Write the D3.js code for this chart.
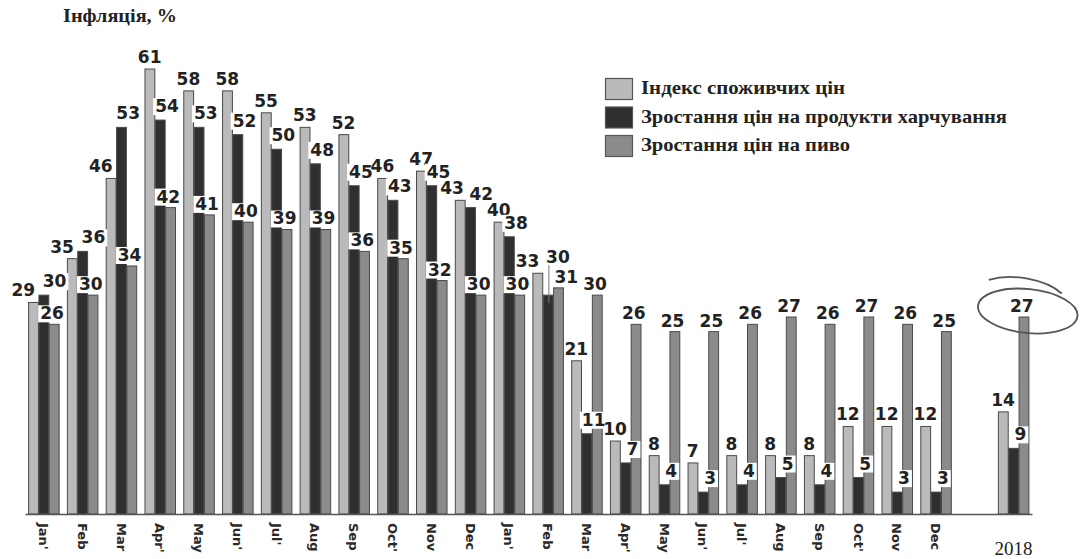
<!DOCTYPE html>
<html>
<head>
<meta charset="utf-8">
<script src="https://cdn.jsdelivr.net/npm/d3@7"></script>
<style>
  html, body { margin: 0; padding: 0; background: #fff; }
  svg { display: block; }
</style>
</head>
<body>
<svg id="chart" width="1080" height="559"></svg>
<script>
// Month labels (two years) followed by an empty slot and the 2018 point
const categories = ["Jan'", "Feb", "Mar", "Apr'", "May", "Jun'", "Jul'", "Aug", "Sep", "Oct'", "Nov", "Dec",
                    "Jan'", "Feb", "Mar", "Apr'", "May", "Jun'", "Jul'", "Aug", "Sep", "Oct'", "Nov", "Dec",
                    "", "2018"];

// Inflation, %
const cpiValues  = [29, 35, 46, 61, 58, 58, 55, 53, 52, 46, 47, 43,
                    40, 33, 21, 10, 8, 7, 8, 8, 8, 12, 12, 12,
                    null, 14];
const foodValues = [30, 36, 53, 54, 53, 52, 50, 48, 45, 43, 45, 42,
                    38, 30, 11, 7, 4, 3, 4, 5, 4, 5, 3, 3,
                    null, 9];
const beerValues = [26, 30, 34, 42, 41, 40, 39, 39, 36, 35, 32, 30,
                    30, 31, 30, 26, 25, 25, 26, 27, 26, 27, 26, 25,
                    null, 27];

const seriesNames = ["Індекс споживчих цін", "Зростання цін на продукти харчування", "Зростання цін на пиво"];
const seriesKeys = ["cpi", "food", "beer"];
const titleText = "Інфляція, %";

const colors = { cpi: "#bababa", food: "#2f2f2f", beer: "#8b8b8b" };
const barStroke = "#4a4a4a";

const svg = d3.select("#chart");
const baseY = 514;

const x = d3.scaleBand()
  .domain(d3.range(categories.length))
  .range([25, 1032])
  .paddingInner(0.2)
  .paddingOuter(0.08);

const xSub = d3.scaleBand()
  .domain(seriesKeys)
  .range([0, x.bandwidth()]);

const y = d3.scaleLinear().domain([0, 61]).range([baseY, 69]);

const rows = categories.map((c, i) => ({
  i, label: c, cpi: cpiValues[i], food: foodValues[i], beer: beerValues[i]
})).filter(d => d.cpi != null);

// Bars
const groups = svg.append("g").selectAll("g")
  .data(rows).join("g")
  .attr("transform", d => `translate(${x(d.i)},0)`);

groups.selectAll("rect")
  .data(d => seriesKeys.map(k => ({ key: k, value: d[k] })))
  .join("rect")
  .attr("x", d => xSub(d.key) + 0.5)
  .attr("width", xSub.bandwidth() - 0.5)
  .attr("y", d => y(d.value))
  .attr("height", d => baseY - y(d.value))
  .attr("fill", d => colors[d.key])
  .attr("stroke", barStroke)
  .attr("stroke-width", 1);

// Axis
const xAxis = d3.axisBottom(x)
  .tickSize(0)
  .tickSizeOuter(0)
  .tickFormat(i => categories[i]);

const axisG = svg.append("g")
  .attr("transform", `translate(0,${baseY})`)
  .call(xAxis);

axisG.select(".domain").attr("stroke", "#555").attr("stroke-width", 1.6);

axisG.selectAll(".tick text")
  .attr("fill", "#2a2a2a")
  .style("font-family", "'DejaVu Sans', sans-serif")
  .style("font-weight", "bold")
  .style("font-size", "13px")
  .each(function (i) {
    const t = d3.select(this);
    if (categories[i] === "2018") {
      t.attr("y", 41).attr("dy", null)
        .style("font-family", "'Liberation Serif', 'Times New Roman', serif")
        .style("font-weight", "normal")
        .style("font-size", "19px")
        .attr("fill", "#222")
        .style("text-anchor", "middle");
    } else {
      t.attr("transform", "rotate(90)")
        .attr("x", 9).attr("y", 0).attr("dy", "0.36em")
        .style("text-anchor", "start");
    }
  });

// Value labels
const labelFont = "'DejaVu Sans', Verdana, sans-serif";
const labelLayer = svg.append("g");

function addLabel(cx, baseline, text, withBg) {
  const g = labelLayer.append("g");
  const bg = g.append("rect").attr("fill", "#fff");
  const t = g.append("text")
    .attr("x", cx).attr("y", baseline)
    .attr("text-anchor", "middle")
    .style("font-family", labelFont)
    .style("font-weight", "bold")
    .style("font-size", "17px")
    .attr("fill", "#222")
    .text(text);
  if (withBg) {
    const w = t.node().getComputedTextLength();
    bg.attr("x", cx - w / 2 - 2).attr("y", baseline - 14)
      .attr("width", w + 4).attr("height", 17);
  } else {
    bg.remove();
  }
}

rows.forEach(d => {
  const gx = x(d.i);
  const cCx = gx + xSub("cpi") + xSub.bandwidth() / 2;
  const fCx = gx + xSub("food") + xSub.bandwidth() / 2;
  const bCx = gx + xSub("beer") + xSub.bandwidth() / 2;

  // food label would sit on the beer label when the two are close: lift it with a leader
  const lift = d.beer > d.food && d.beer - d.food < 5;
  // nearly equal first two bars: spread their labels apart
  const tie = Math.abs(d.food - d.cpi) <= 1;
  const cpiShift = (d.food > d.cpi || lift) ? -10 : (tie ? -8 : 0);
  const foodShift = tie ? 11 : 7;

  addLabel(cCx + cpiShift, y(d.cpi) - 6, d.cpi, false);
  addLabel(bCx + (lift ? 8 : -2), y(d.beer) - 5, d.beer, true);

  if (lift) {
    const lb = y(d.food) - 32;
    labelLayer.append("line")
      .attr("x1", fCx + 1).attr("x2", fCx + 1)
      .attr("y1", lb + 2).attr("y2", y(d.food) + 8)
      .attr("stroke", "#777").attr("stroke-width", 1);
    addLabel(fCx + 10, lb, d.food, false);
  } else {
    addLabel(fCx + foodShift, y(d.food) - 8, d.food, true);
  }
});

// Hand-drawn ring around the 2018 beer value
const last = rows[rows.length - 1];
const ringCx = x(last.i) + xSub("beer") + xSub.bandwidth() / 2 + 4;
const ringCy = y(last.beer) - 6;
const ring = svg.append("g")
  .attr("transform", `translate(${ringCx},${ringCy}) rotate(6)`)
  .attr("fill", "none")
  .attr("stroke", "#555")
  .attr("stroke-width", 1.8);
ring.append("ellipse").attr("rx", 50).attr("ry", 22);
ring.append("path")
  .attr("d", "M-42,-27 C-20,-36 14,-34 32,-21");

// Title
svg.append("text")
  .attr("x", 63).attr("y", 22)
  .style("font-family", "'Liberation Serif', 'Times New Roman', serif")
  .style("font-weight", "bold")
  .style("font-size", "19px")
  .attr("fill", "#222")
  .attr("textLength", 114)
  .attr("lengthAdjust", "spacingAndGlyphs")
  .text(titleText);

// Legend
const legendWidths = [204, 366, 209];
const legend = svg.append("g").attr("transform", "translate(605,78)");
seriesKeys.forEach((k, i) => {
  const row = legend.append("g").attr("transform", `translate(0,${i * 28.5})`);
  row.append("rect")
    .attr("x", 0.5).attr("y", 0.5)
    .attr("width", 27).attr("height", 21)
    .attr("fill", colors[k])
    .attr("stroke", "#555").attr("stroke-width", 1.2);
  row.append("text")
    .attr("x", 36).attr("y", 16)
    .style("font-family", "'Liberation Serif', 'Times New Roman', serif")
    .style("font-weight", "bold")
    .style("font-size", "19px")
    .attr("fill", "#222")
    .attr("textLength", legendWidths[i])
    .attr("lengthAdjust", "spacingAndGlyphs")
    .text(seriesNames[i]);
});
</script>
</body>
</html>
